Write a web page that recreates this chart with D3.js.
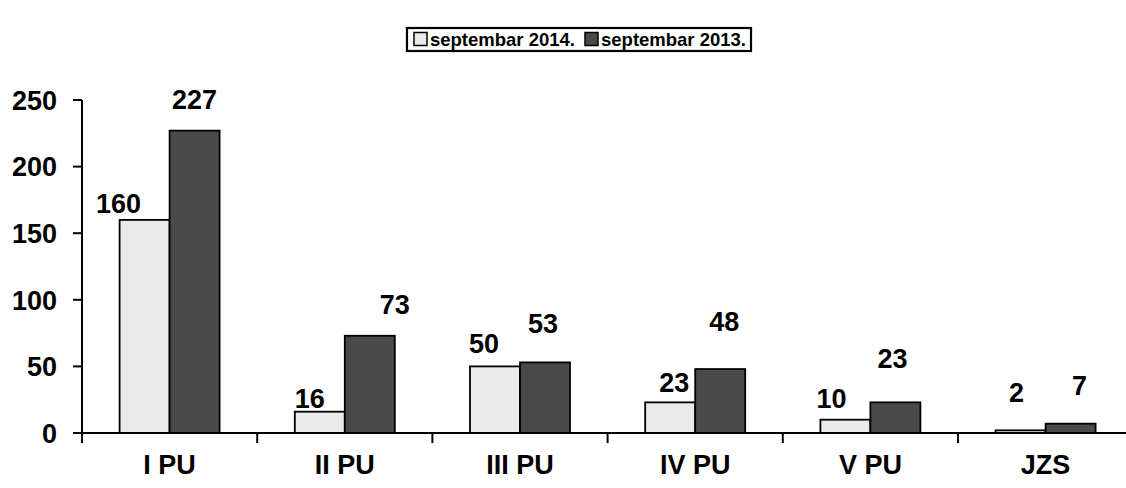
<!DOCTYPE html>
<html>
<head>
<meta charset="utf-8">
<script src="https://cdn.jsdelivr.net/npm/d3@7"></script>
<style>
  body { margin: 0; background: #fff; }
  text { font-family: "Liberation Sans", Arial, sans-serif; font-weight: bold; }
</style>
</head>
<body>
<div id="viz"></div>
<script>
var categories = ["I PU", "II PU", "III PU", "IV PU", "V PU", "JZS"];
var seriesNames = ["septembar 2014.", "septembar 2013."];
var values2014 = [160, 16, 50, 23, 10, 2];
var values2013 = [227, 73, 53, 48, 23, 7];
var yTicks = [0, 50, 100, 150, 200, 250];

// hand-placed data labels in the original, nudges in px from the default spot
var labelNudge2014 = [[-26, 1], [-10, 4], [-11, -5], [4, -2], [-14, -4], [-4, -20]];
var labelNudge2013 = [[0, 0], [25, 0], [-2, -7], [4, -16], [-3, -12], [9, -7]];

var width = 1126, height = 488;
var colors = ["#eaeaea", "#4a4a4a"];
var fs = "27px";

var svg = d3.select("#viz").append("svg")
    .attr("width", width)
    .attr("height", height);

var x = d3.scaleBand()
    .domain(categories)
    .range([82, 82 + 6 * 175.2])
    .padding(0);

var y = d3.scaleLinear()
    .domain([0, 250])
    .range([433, 100]);

var barW = 50;

// y axis
var yAxis = svg.append("g").attr("transform", "translate(82,0)");
yAxis.append("line")
    .attr("x1", 0).attr("x2", 0)
    .attr("y1", y(250)).attr("y2", y(0) + 10)
    .attr("stroke", "#000").attr("stroke-width", 2);
yTicks.forEach(function(t) {
    yAxis.append("line")
        .attr("x1", -9).attr("x2", 0)
        .attr("y1", y(t)).attr("y2", y(t))
        .attr("stroke", "#000").attr("stroke-width", 2);
    yAxis.append("text")
        .attr("x", -25).attr("y", y(t))
        .attr("dy", "0.36em")
        .attr("text-anchor", "end")
        .attr("font-size", fs)
        .text(t);
});

// bars
var groups = svg.selectAll(".grp")
    .data(categories)
    .enter().append("g")
    .attr("class", "grp");

groups.append("rect")
    .attr("x", function(d) { return x(d) + x.bandwidth() / 2 - barW; })
    .attr("y", function(d, i) { return y(values2014[i]); })
    .attr("width", barW)
    .attr("height", function(d, i) { return y(0) - y(values2014[i]); })
    .attr("fill", colors[0])
    .attr("stroke", "#000").attr("stroke-width", 1.8);

groups.append("rect")
    .attr("x", function(d) { return x(d) + x.bandwidth() / 2; })
    .attr("y", function(d, i) { return y(values2013[i]); })
    .attr("width", barW)
    .attr("height", function(d, i) { return y(0) - y(values2013[i]); })
    .attr("fill", colors[1])
    .attr("stroke", "#000").attr("stroke-width", 1.8);

// x axis
var xAxis = svg.append("g");
xAxis.append("line")
    .attr("x1", 82).attr("x2", width)
    .attr("y1", y(0)).attr("y2", y(0))
    .attr("stroke", "#000").attr("stroke-width", 2);
categories.concat(["end"]).forEach(function(c, i) {
    var tx = 82 + i * x.step();
    xAxis.append("line")
        .attr("x1", tx).attr("x2", tx)
        .attr("y1", y(0)).attr("y2", y(0) + 10)
        .attr("stroke", "#000").attr("stroke-width", 2);
});
groups.append("text")
    .attr("x", function(d) { return x(d) + x.bandwidth() / 2; })
    .attr("y", 474)
    .attr("text-anchor", "middle")
    .attr("font-size", fs)
    .text(function(d) { return d; });

// data labels
groups.append("text")
    .attr("x", function(d, i) { return x(d) + x.bandwidth() / 2 - barW / 2 + labelNudge2014[i][0]; })
    .attr("y", function(d, i) { return y(values2014[i]) - 8 + labelNudge2014[i][1]; })
    .attr("text-anchor", "middle")
    .attr("font-size", fs)
    .text(function(d, i) { return values2014[i]; });

groups.append("text")
    .attr("x", function(d, i) { return x(d) + x.bandwidth() / 2 + barW / 2 + labelNudge2013[i][0]; })
    .attr("y", function(d, i) { return y(values2013[i]) - 22 + labelNudge2013[i][1]; })
    .attr("text-anchor", "middle")
    .attr("font-size", fs)
    .text(function(d, i) { return values2013[i]; });

// legend
var legend = svg.append("g");
var lgBox = legend.append("rect")
    .attr("y", 28).attr("height", 23)
    .attr("fill", "#fff")
    .attr("stroke", "#000").attr("stroke-width", 2.2);
var items = [];
seriesNames.forEach(function(name, i) {
    var it = legend.append("g");
    it.append("rect")
        .attr("x", 0).attr("y", 32.5)
        .attr("width", 13).attr("height", 13)
        .attr("fill", colors[i])
        .attr("stroke", "#000").attr("stroke-width", 1.5);
    var t = it.append("text")
        .attr("x", 16).attr("y", 46)
        .attr("font-size", "18.5px")
        .text(name);
    items.push({g: it, w: 16 + t.node().getComputedTextLength()});
});
var gap = 10;
var totalW = items[0].w + gap + items[1].w;
var startX = 580 - totalW / 2;
items[0].g.attr("transform", "translate(" + startX + ",0)");
items[1].g.attr("transform", "translate(" + (startX + items[0].w + gap) + ",0)");
lgBox.attr("x", startX - 7).attr("width", totalW + 12);
</script>
</body>
</html>
